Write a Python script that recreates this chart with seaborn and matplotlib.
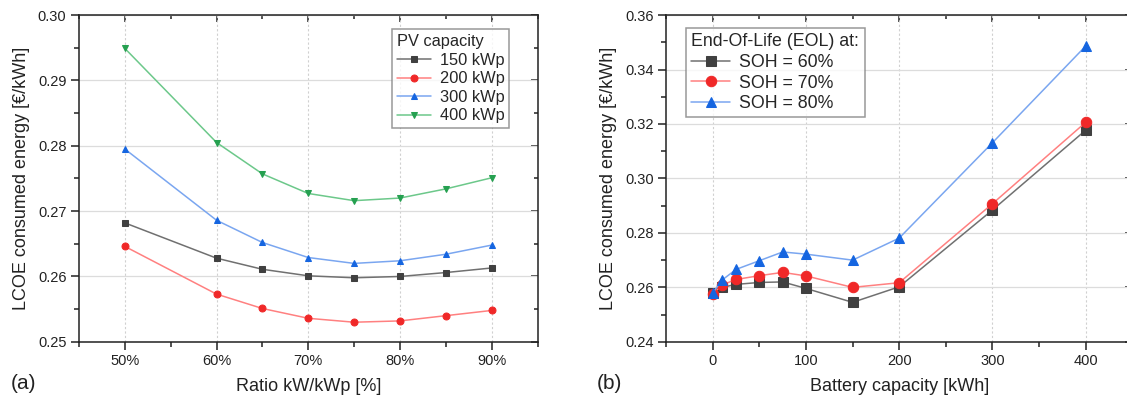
import numpy as np
import pandas as pd
import matplotlib
matplotlib.use("Agg")
import matplotlib.pyplot as plt
import seaborn as sns
from matplotlib.ticker import MultipleLocator, FuncFormatter

# ---------------- data ----------------
ratio = [50, 60, 65, 70, 75, 80, 85, 90]
pv_labels = ["150 kWp", "200 kWp", "300 kWp", "400 kWp"]
pv_150 = [0.2682, 0.2628, 0.2611, 0.2601, 0.2598, 0.2600, 0.2606, 0.2613]
pv_200 = [0.2646, 0.2573, 0.2551, 0.2536, 0.2530, 0.2532, 0.2540, 0.2548]
pv_300 = [0.2795, 0.2686, 0.2652, 0.2629, 0.2620, 0.2624, 0.2634, 0.2648]
pv_400 = [0.2949, 0.2805, 0.2757, 0.2727, 0.2716, 0.2720, 0.2734, 0.2751]

battery = [0, 10, 25, 50, 75, 100, 150, 200, 300, 400]
soh_labels = ["SOH = 60%", "SOH = 70%", "SOH = 80%"]
soh_60 = [0.2578, 0.2600, 0.2611, 0.2618, 0.2620, 0.2596, 0.2545, 0.2602, 0.2884, 0.3177]
soh_70 = [0.2576, 0.2609, 0.2629, 0.2643, 0.2655, 0.2642, 0.2600, 0.2617, 0.2907, 0.3206]
soh_80 = [0.2580, 0.2627, 0.2666, 0.2698, 0.2730, 0.2722, 0.2700, 0.2781, 0.3131, 0.3486]

# ---------------- style ----------------
sns.set_theme(style="white")
plt.rcParams["font.family"] = ["Liberation Sans", "DejaVu Sans"]

line_cols = ["#707070", "#ff8080", "#7aa6f0", "#6cc88a"]
mark_cols = ["#404040", "#f02828", "#1565e0", "#25a050"]
markers_a = ["s", "o", "^", "v"]
markers_b = ["s", "o", "^"]

fig = plt.figure(figsize=(11.27, 3.97), dpi=100)
axA = fig.add_axes([79 / 1127, 0.139, 458.5 / 1127, 0.823])
axB = fig.add_axes([666.2 / 1127, 0.139, 466 / 1127, 0.823])

dfA = pd.DataFrame({"ratio": ratio * 4,
                    "lcoe": pv_150 + pv_200 + pv_300 + pv_400,
                    "pv": sum([[l] * len(ratio) for l in pv_labels], [])})
dfB = pd.DataFrame({"battery": battery * 3,
                    "lcoe": soh_60 + soh_70 + soh_80,
                    "soh": sum([[l] * len(battery) for l in soh_labels], [])})

for i, lab in enumerate(pv_labels):
    sub = dfA[dfA["pv"] == lab]
    sns.lineplot(data=sub, x="ratio", y="lcoe", ax=axA, color=line_cols[i],
                 lw=1.1, marker=markers_a[i], markersize=5,
                 markerfacecolor=mark_cols[i], markeredgecolor=mark_cols[i],
                 label=lab)

for i, lab in enumerate(soh_labels):
    sub = dfB[dfB["soh"] == lab]
    sns.lineplot(data=sub, x="battery", y="lcoe", ax=axB, color=line_cols[i],
                 lw=1.1, marker=markers_b[i], markersize=7.5,
                 markerfacecolor=mark_cols[i], markeredgecolor=mark_cols[i],
                 label=lab)

def style_ax(ax):
    ax.set_axisbelow(True)
    ax.grid(True, axis="y", which="major", color="#dcdcdc", lw=0.9, ls="-")
    ax.grid(True, axis="x", which="major", color="#d0d0d0", lw=0.8, ls=(0, (2, 2)))
    for s in ax.spines.values():
        s.set_color("#222222")
        s.set_linewidth(1.1)
    ax.tick_params(axis="both", which="both", direction="out", labelsize=10.5,
                   colors="#222222", labelcolor="#222222", left=True, bottom=True, pad=3)
    ax.tick_params(which="major", length=6, width=1.1)
    ax.tick_params(which="minor", length=3.5, width=1.1)
    sec_x = ax.secondary_xaxis("top")
    sec_y = ax.secondary_yaxis("right")
    for sec, ax_name in ((sec_x, "x"), (sec_y, "y")):
        sec.tick_params(direction="in", length=5, width=1.1, which="major",
                        colors="#222222")
        sec.tick_params(direction="in", length=3, width=1.1, which="minor",
                        colors="#222222")
        if ax_name == "x":
            sec.xaxis.set_major_locator(ax.xaxis.get_major_locator())
            sec.xaxis.set_minor_locator(ax.xaxis.get_minor_locator())
            sec.set_xticklabels([])
        else:
            sec.yaxis.set_major_locator(ax.yaxis.get_major_locator())
            sec.yaxis.set_minor_locator(ax.yaxis.get_minor_locator())
            sec.set_yticklabels([])
        for s in sec.spines.values():
            s.set_visible(False)

# Panel A axes
axA.set_xlim(45, 95)
axA.set_ylim(0.25, 0.30)
axA.xaxis.set_major_locator(MultipleLocator(10))
axA.xaxis.set_minor_locator(MultipleLocator(5))
axA.yaxis.set_major_locator(MultipleLocator(0.01))
axA.yaxis.set_minor_locator(MultipleLocator(0.005))
axA.xaxis.set_major_formatter(FuncFormatter(lambda v, p: f"{v:.0f}%"))
axA.yaxis.set_major_formatter(FuncFormatter(lambda v, p: f"{v:.2f}"))
axA.set_xlabel("Ratio kW/kWp [%]", fontsize=13, labelpad=7, color="#222222")
axA.set_ylabel("LCOE consumed energy [€/kWh]", fontsize=13, labelpad=6,
               color="#222222")
style_ax(axA)

# Panel B axes
axB.set_xlim(-50, 450)
axB.set_ylim(0.24, 0.36)
axB.xaxis.set_major_locator(MultipleLocator(100))
axB.xaxis.set_minor_locator(MultipleLocator(50))
axB.yaxis.set_major_locator(MultipleLocator(0.02))
axB.yaxis.set_minor_locator(MultipleLocator(0.01))
axB.xaxis.set_major_formatter(FuncFormatter(lambda v, p: f"{v:.0f}"))
axB.yaxis.set_major_formatter(FuncFormatter(lambda v, p: f"{v:.2f}"))
axB.set_xlabel("Battery capacity [kWh]", fontsize=13, labelpad=7, color="#222222")
axB.set_ylabel("LCOE consumed energy [€/kWh]", fontsize=13, labelpad=6,
               color="#222222")
style_ax(axB)

# Legends
legA = axA.legend(title="PV capacity", loc="upper left",
                  bbox_to_anchor=(0.683, 0.957), fontsize=11.8,
                  title_fontsize=11.8, frameon=True, fancybox=False,
                  edgecolor="#808080", handlelength=2.1, handletextpad=0.5,
                  labelspacing=0.22, borderpad=0.3, borderaxespad=0,
                  alignment="left")
legA.get_frame().set_linewidth(1.1)
legB = axB.legend(title="End-Of-Life (EOL) at:", loc="upper left",
                  bbox_to_anchor=(0.0425, 0.96), fontsize=12.8,
                  title_fontsize=12.8, frameon=True, fancybox=False,
                  edgecolor="#808080", handlelength=2.2, handletextpad=0.5,
                  labelspacing=0.2, borderpad=0.3, borderaxespad=0,
                  alignment="left")
legB.get_frame().set_linewidth(1.1)

fig.text(11 / 1127, 0.02, "(a)", fontsize=15, color="#222222")
fig.text(597 / 1127, 0.02, "(b)", fontsize=15, color="#222222")

fig.savefig("out.png", dpi=100)
